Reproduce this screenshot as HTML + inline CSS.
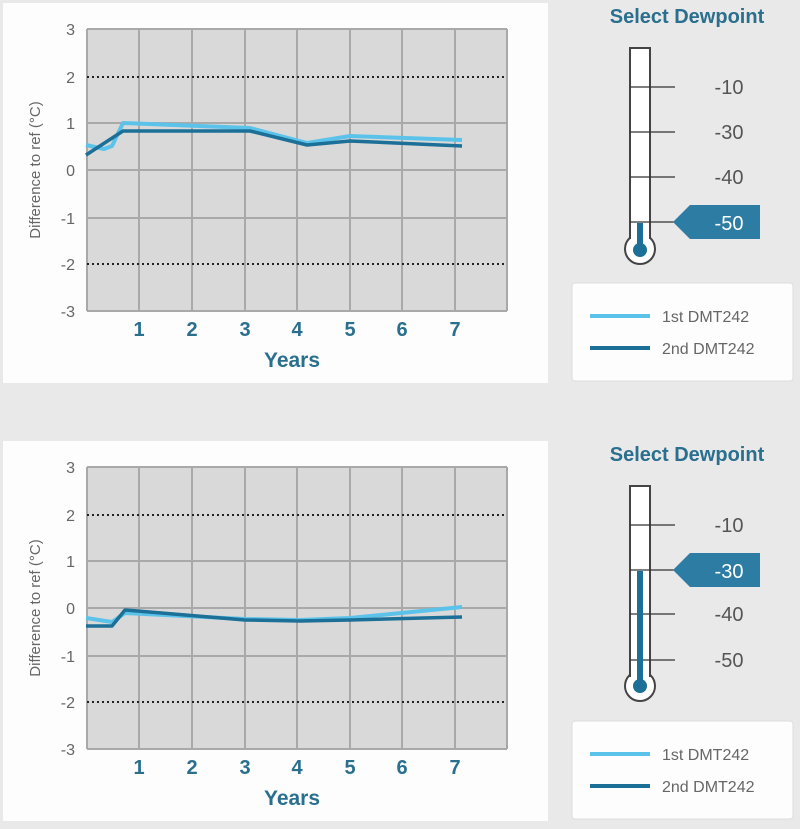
<!DOCTYPE html>
<html><head><meta charset="utf-8"><style>
html,body{margin:0;padding:0;background:#e9e9e9;}
body{width:800px;height:824px;overflow:hidden;font-family:"Liberation Sans",sans-serif;}
</style></head><body>
<svg width="800" height="824" viewBox="0 0 800 824" xmlns="http://www.w3.org/2000/svg" font-family="Liberation Sans, sans-serif">
<rect x="0" y="0" width="800" height="824" fill="#e9e9e9"/>
<defs>
<g id="chart">
  <rect x="3" y="3" width="545" height="380" fill="#fdfdfd"/>
  <rect x="87" y="29" width="420" height="282" fill="#d9d9d9"/>
  <g stroke="#a9a9a9" stroke-width="2">
    <line x1="87" y1="29" x2="507" y2="29"/>
    <line x1="87" y1="123" x2="507" y2="123"/>
    <line x1="87" y1="170" x2="507" y2="170"/>
    <line x1="87" y1="218" x2="507" y2="218"/>
    <line x1="87" y1="311" x2="507" y2="311"/>
    <line x1="87" y1="29" x2="87" y2="311"/>
    <line x1="139" y1="29" x2="139" y2="311"/>
    <line x1="192" y1="29" x2="192" y2="311"/>
    <line x1="245" y1="29" x2="245" y2="311"/>
    <line x1="297" y1="29" x2="297" y2="311"/>
    <line x1="350" y1="29" x2="350" y2="311"/>
    <line x1="402" y1="29" x2="402" y2="311"/>
    <line x1="455" y1="29" x2="455" y2="311"/>
    <line x1="507" y1="29" x2="507" y2="311"/>
  </g>
  <g stroke="#222" stroke-width="2" stroke-dasharray="2,3">
    <line x1="87" y1="77" x2="507" y2="77"/>
    <line x1="87" y1="264" x2="507" y2="264"/>
  </g>
  <g font-size="16" fill="#666" text-anchor="end">
    <text x="75" y="35">3</text><text x="75" y="83">2</text><text x="75" y="129">1</text>
    <text x="75" y="176">0</text><text x="75" y="224">-1</text><text x="75" y="270">-2</text><text x="75" y="317">-3</text>
  </g>
  <text transform="translate(40,170) rotate(-90)" font-size="15" fill="#666" text-anchor="middle">Difference to ref (°C)</text>
  <g font-size="20" font-weight="bold" fill="#2a6f8e" text-anchor="middle">
    <text x="139" y="336">1</text><text x="192" y="336">2</text><text x="245" y="336">3</text><text x="297" y="336">4</text>
    <text x="350" y="336">5</text><text x="402" y="336">6</text><text x="455" y="336">7</text>
    <text x="292" y="367" font-size="21">Years</text>
  </g>
</g>
<g id="legend">
  <rect x="572" y="283" width="221" height="98" rx="3" fill="#fdfdfd" stroke="#ddd"/>
  <line x1="590" y1="316" x2="650" y2="316" stroke="#5bc2ea" stroke-width="4"/>
  <line x1="590" y1="348" x2="650" y2="348" stroke="#1c6f97" stroke-width="4"/>
  <text x="662" y="322" font-size="16" fill="#666">1st DMT242</text>
  <text x="662" y="354" font-size="16" fill="#666">2nd DMT242</text>
</g>
</defs>

<use href="#chart"/>
<polyline points="86,145 104,149 112,146 123,123 250,128 307,143 350,136 462,140" fill="none" stroke="#5bc2ea" stroke-width="4" stroke-linejoin="round"/>
<polyline points="86,155 123,131 250,131 307,145 350,141 462,146" fill="none" stroke="#1c6f97" stroke-width="3.5" stroke-linejoin="round"/>
<use href="#legend"/>

<g transform="translate(0,438)">
<use href="#chart"/>
<use href="#legend"/>
</g>
<polyline points="86,618 112,622 125,613 245,619 300,620 350,618 462,607" fill="none" stroke="#5bc2ea" stroke-width="4" stroke-linejoin="round"/>
<polyline points="86,626 112,626 125,610 245,620 300,621 350,620 462,617" fill="none" stroke="#1c6f97" stroke-width="3.5" stroke-linejoin="round"/>

<g font-size="20" font-weight="bold" fill="#2a6f8e" text-anchor="middle"><text x="687" y="23">Select Dewpoint</text><text x="687" y="461">Select Dewpoint</text></g>
<g stroke="#444" stroke-width="2" fill="#fff">
  <circle cx="640" cy="249" r="15"/>
  <rect x="630" y="48" width="20" height="190"/>
  <circle cx="640" cy="686" r="15"/>
  <rect x="630" y="486" width="20" height="190"/>
</g>
<rect x="631" y="236" width="18" height="10" fill="#fff"/>
<rect x="631" y="674" width="18" height="10" fill="#fff"/>
<g stroke="#333" stroke-width="1.3">
  <line x1="630" y1="87" x2="675" y2="87"/><line x1="630" y1="132" x2="675" y2="132"/><line x1="630" y1="177" x2="675" y2="177"/><line x1="630" y1="222" x2="675" y2="222"/>
  <line x1="630" y1="525" x2="675" y2="525"/><line x1="630" y1="570" x2="675" y2="570"/><line x1="630" y1="614" x2="675" y2="614"/><line x1="630" y1="660" x2="675" y2="660"/>
</g>
<rect x="637" y="223" width="6" height="25" fill="#1c6f97"/>
<circle cx="640" cy="250" r="7" fill="#1c6f97"/>
<rect x="637" y="571" width="6" height="115" fill="#1c6f97"/>
<circle cx="640" cy="686" r="7" fill="#1c6f97"/>
<g font-size="20" fill="#555" text-anchor="middle">
  <text x="729" y="94">-10</text><text x="729" y="139">-30</text><text x="729" y="184">-40</text>
  <text x="729" y="532">-10</text><text x="729" y="621">-40</text><text x="729" y="667">-50</text>
</g>
<path d="M673,222 L690,205 H760 V239 H690 Z" fill="#2d7ca3"/>
<text x="729" y="230" font-size="20" fill="#fff" text-anchor="middle">-50</text>
<path d="M673,570 L690,553 H760 V587 H690 Z" fill="#2d7ca3"/>
<text x="729" y="578" font-size="20" fill="#fff" text-anchor="middle">-30</text>
</svg>
</body></html>
